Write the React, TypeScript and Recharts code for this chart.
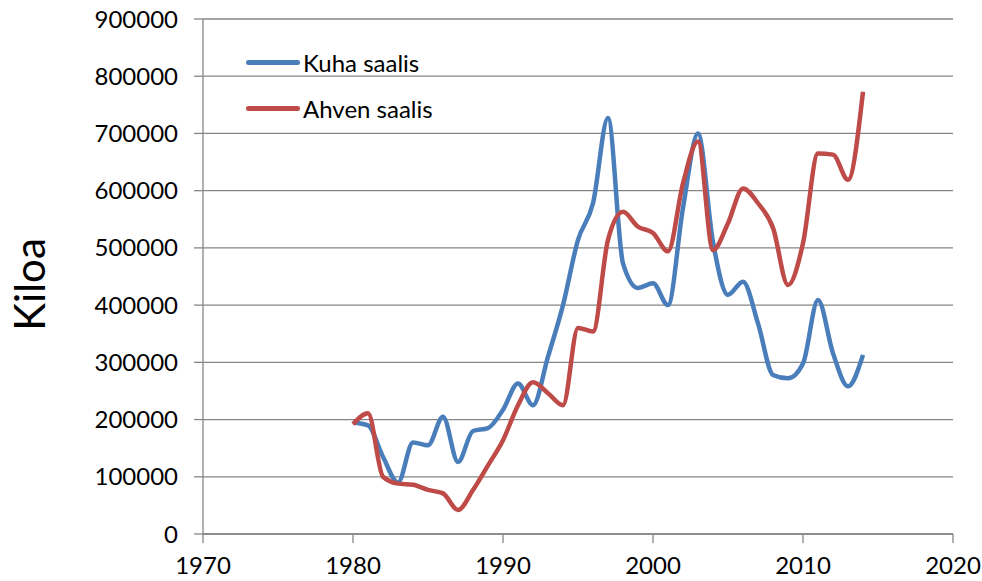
import React from "react";
import {
  LineChart,
  Line,
  XAxis,
  YAxis,
  CartesianGrid,
  Label,
} from "recharts";

const years = [
  1980, 1981, 1982, 1983, 1984, 1985, 1986, 1987, 1988, 1989,
  1990, 1991, 1992, 1993, 1994, 1995, 1996, 1997, 1998, 1999,
  2000, 2001, 2002, 2003, 2004, 2005, 2006, 2007, 2008, 2009,
  2010, 2011, 2012, 2013, 2014,
];

const kuha = [
  195000, 190000, 135000, 90000, 160000, 155000, 205000, 126000, 180000, 185000,
  217000, 263000, 225000, 310000, 400000, 514000, 578000, 727000, 473000, 430000,
  438000, 400000, 570000, 700000, 510000, 418000, 441000, 368000, 278000, 272000,
  298000, 409000, 316000, 258000, 313000,
];

const ahven = [
  192000, 211000, 100000, 88000, 86000, 77000, 71000, 42000, 77000, 120000,
  164000, 225000, 265000, 246000, 225000, 360000, 354000, 514000, 563000, 537000,
  526000, 494000, 613000, 686000, 496000, 543000, 604000, 578000, 535000, 435000,
  508000, 665000, 663000, 619000, 773000,
];

const xTicks = [1970, 1980, 1990, 2000, 2010, 2020];
const yTicks = [0, 100000, 200000, 300000, 400000, 500000, 600000, 700000, 800000, 900000];

const seriesNames = ["Kuha saalis", "Ahven saalis"];
const colors = ["#4a7ebb", "#be4b48"];

const data = years.map((y, i) => ({ year: y, kuha: kuha[i], ahven: ahven[i] }));

const FONT = "Lato, 'Open Sans', sans-serif";
const GRAY = "#868686";

// legend drawn as an overlay so it doesn't eat into the plot area
function LegendBox() {
  return (
    <div
      style={{
        position: "absolute",
        left: 246,
        top: 39,
        fontFamily: FONT,
        fontSize: 24,
        color: "#000",
      }}
    >
      {seriesNames.map((n, i) => (
        <div key={n} style={{ display: "flex", alignItems: "center", height: 46 }}>
          <div
            style={{
              width: 54,
              height: 5,
              borderRadius: 3,
              background: colors[i],
              marginRight: 3,
            }}
          />
          <span>{n}</span>
        </div>
      ))}
    </div>
  );
}

export default function App() {
  return (
    <div style={{ position: "absolute", left: 0, top: 0, background: "#fff" }}>
      <LineChart
        width={982}
        height={581}
        data={data}
        margin={{ top: 19, right: 29, bottom: 0, left: 0 }}
      >
        <CartesianGrid horizontal vertical={false} stroke={GRAY} strokeWidth={1.3} />
        <XAxis
          dataKey="year"
          type="number"
          domain={[1970, 2020]}
          ticks={xTicks}
          height={47}
          stroke={GRAY}
          strokeWidth={1.3}
          tickSize={9}
          tickMargin={14}
          tick={{ fill: "#000", fontSize: 24, fontFamily: FONT }}
        />
        <YAxis
          type="number"
          domain={[0, 900000]}
          ticks={yTicks}
          width={203}
          stroke={GRAY}
          strokeWidth={1.3}
          tickSize={9}
          tickMargin={16}
          interval={0}
          tick={{ fill: "#000", fontSize: 24, fontFamily: FONT }}
        >
          <Label
            content={({ viewBox }: any) => {
              const cx = viewBox.x + 29;
              const cy = viewBox.y + viewBox.height / 2 + 8;
              return (
                <text
                  x={cx}
                  y={cy}
                  transform={`rotate(-90 ${cx} ${cy})`}
                  textAnchor="middle"
                  dominantBaseline="central"
                  fontSize={42}
                  fontFamily={FONT}
                  fill="#000"
                >
                  Kiloa
                </text>
              );
            }}
          />
        </YAxis>
        <Line
          type="monotone"
          dataKey="kuha"
          name={seriesNames[0]}
          stroke={colors[0]}
          strokeWidth={4.5}
          dot={false}
          isAnimationActive={false}
        />
        <Line
          type="monotone"
          dataKey="ahven"
          name={seriesNames[1]}
          stroke={colors[1]}
          strokeWidth={4.5}
          dot={false}
          isAnimationActive={false}
        />
      </LineChart>
      <LegendBox />
    </div>
  );
}
